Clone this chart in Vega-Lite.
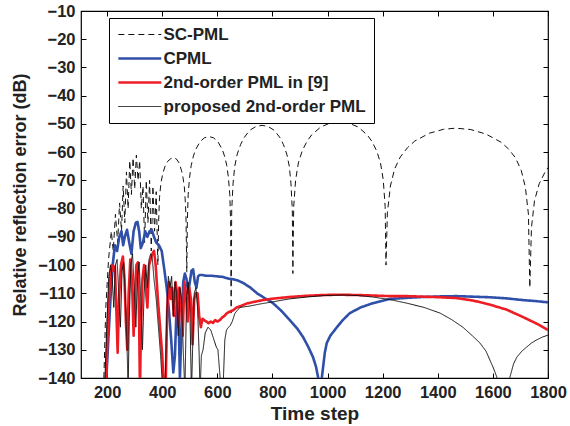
{
  "$schema": "https://vega.github.io/schema/vega-lite/v6.json",
  "width": 467,
  "height": 367,
  "autosize": {"type": "none"},
  "padding": {"left": 81, "top": 11, "right": 22, "bottom": 48},
  "background": "white",
  "config": {
    "view": {"stroke": "black", "strokeWidth": 1.2},
    "font": "Liberation Sans",
    "axis": {"labelFont": "Liberation Sans", "titleFont": "Liberation Sans", "labelFontWeight": "bold", "titleFontWeight": "bold", "labelColor": "#222", "titleColor": "#222", "grid": false, "domainColor": "black", "tickColor": "black", "labelOverlap": false, "labelFlush": false}
  },
  "datasets": {
    "curves": [
      {"s": "SC-PML", "t": 188, "v": -140}, {"s": "SC-PML", "t": 195, "v": -115}, {"s": "SC-PML", "t": 205, "v": -98}, {"s": "SC-PML", "t": 215, "v": -88}, {"s": "SC-PML", "t": 222, "v": -95}, {"s": "SC-PML", "t": 230, "v": -82}, {"s": "SC-PML", "t": 238, "v": -92}, {"s": "SC-PML", "t": 245, "v": -78}, {"s": "SC-PML", "t": 252, "v": -88}, {"s": "SC-PML", "t": 258, "v": -72}, {"s": "SC-PML", "t": 264, "v": -85}, {"s": "SC-PML", "t": 270, "v": -67}, {"s": "SC-PML", "t": 276, "v": -80}, {"s": "SC-PML", "t": 282, "v": -63}, {"s": "SC-PML", "t": 288, "v": -75}, {"s": "SC-PML", "t": 294, "v": -62}, {"s": "SC-PML", "t": 300, "v": -73}, {"s": "SC-PML", "t": 306, "v": -61}, {"s": "SC-PML", "t": 312, "v": -70}, {"s": "SC-PML", "t": 318, "v": -63}, {"s": "SC-PML", "t": 324, "v": -80}, {"s": "SC-PML", "t": 330, "v": -72}, {"s": "SC-PML", "t": 336, "v": -92}, {"s": "SC-PML", "t": 342, "v": -70}, {"s": "SC-PML", "t": 348, "v": -85}, {"s": "SC-PML", "t": 354, "v": -70}, {"s": "SC-PML", "t": 360, "v": -95}, {"s": "SC-PML", "t": 366, "v": -72}, {"s": "SC-PML", "t": 372, "v": -88}, {"s": "SC-PML", "t": 378, "v": -74}, {"s": "SC-PML", "t": 384, "v": -100}, {"s": "SC-PML", "t": 387, "v": -84}, {"s": "SC-PML", "t": 390, "v": -76}, {"s": "SC-PML", "t": 395, "v": -71}, {"s": "SC-PML", "t": 402, "v": -67.5}, {"s": "SC-PML", "t": 410, "v": -65}, {"s": "SC-PML", "t": 420, "v": -63.2}, {"s": "SC-PML", "t": 431, "v": -62.3}, {"s": "SC-PML", "t": 441, "v": -62}, {"s": "SC-PML", "t": 451, "v": -62.4}, {"s": "SC-PML", "t": 461, "v": -63.8}, {"s": "SC-PML", "t": 470, "v": -66.6}, {"s": "SC-PML", "t": 475, "v": -68.9}, {"s": "SC-PML", "t": 480, "v": -72.2}, {"s": "SC-PML", "t": 483, "v": -76.5}, {"s": "SC-PML", "t": 486, "v": -82.5}, {"s": "SC-PML", "t": 489, "v": -102.5}, {"s": "SC-PML", "t": 491, "v": -84.5}, {"s": "SC-PML", "t": 494, "v": -75}, {"s": "SC-PML", "t": 499, "v": -69}, {"s": "SC-PML", "t": 505, "v": -64.7}, {"s": "SC-PML", "t": 513, "v": -61.4}, {"s": "SC-PML", "t": 521, "v": -59.1}, {"s": "SC-PML", "t": 537, "v": -56.3}, {"s": "SC-PML", "t": 553, "v": -54.9}, {"s": "SC-PML", "t": 570, "v": -54.5}, {"s": "SC-PML", "t": 586, "v": -54.9}, {"s": "SC-PML", "t": 602, "v": -56.3}, {"s": "SC-PML", "t": 618, "v": -59.1}, {"s": "SC-PML", "t": 626, "v": -61.4}, {"s": "SC-PML", "t": 634, "v": -64.7}, {"s": "SC-PML", "t": 640, "v": -69}, {"s": "SC-PML", "t": 645, "v": -75}, {"s": "SC-PML", "t": 648, "v": -84.5}, {"s": "SC-PML", "t": 650, "v": -117}, {"s": "SC-PML", "t": 652, "v": -80.5}, {"s": "SC-PML", "t": 657, "v": -71}, {"s": "SC-PML", "t": 663, "v": -65}, {"s": "SC-PML", "t": 672, "v": -60.7}, {"s": "SC-PML", "t": 684, "v": -57.4}, {"s": "SC-PML", "t": 695, "v": -55.1}, {"s": "SC-PML", "t": 717, "v": -52.3}, {"s": "SC-PML", "t": 740, "v": -50.9}, {"s": "SC-PML", "t": 762, "v": -50.5}, {"s": "SC-PML", "t": 784, "v": -50.9}, {"s": "SC-PML", "t": 807, "v": -52.3}, {"s": "SC-PML", "t": 829, "v": -55.1}, {"s": "SC-PML", "t": 840, "v": -57.4}, {"s": "SC-PML", "t": 852, "v": -60.7}, {"s": "SC-PML", "t": 861, "v": -65}, {"s": "SC-PML", "t": 867, "v": -71}, {"s": "SC-PML", "t": 872, "v": -80.5}, {"s": "SC-PML", "t": 874, "v": -103}, {"s": "SC-PML", "t": 877, "v": -79.3}, {"s": "SC-PML", "t": 884, "v": -69.8}, {"s": "SC-PML", "t": 894, "v": -63.8}, {"s": "SC-PML", "t": 908, "v": -59.5}, {"s": "SC-PML", "t": 925, "v": -56.2}, {"s": "SC-PML", "t": 942, "v": -53.9}, {"s": "SC-PML", "t": 975, "v": -51.1}, {"s": "SC-PML", "t": 1009, "v": -49.7}, {"s": "SC-PML", "t": 1043, "v": -49.3}, {"s": "SC-PML", "t": 1077, "v": -49.7}, {"s": "SC-PML", "t": 1111, "v": -51.1}, {"s": "SC-PML", "t": 1144, "v": -53.9}, {"s": "SC-PML", "t": 1161, "v": -56.2}, {"s": "SC-PML", "t": 1178, "v": -59.5}, {"s": "SC-PML", "t": 1192, "v": -63.8}, {"s": "SC-PML", "t": 1202, "v": -69.8}, {"s": "SC-PML", "t": 1209, "v": -79.3}, {"s": "SC-PML", "t": 1212, "v": -100}, {"s": "SC-PML", "t": 1217, "v": -81.5}, {"s": "SC-PML", "t": 1228, "v": -72}, {"s": "SC-PML", "t": 1243, "v": -66}, {"s": "SC-PML", "t": 1264, "v": -61.7}, {"s": "SC-PML", "t": 1290, "v": -58.4}, {"s": "SC-PML", "t": 1316, "v": -56.1}, {"s": "SC-PML", "t": 1369, "v": -53.3}, {"s": "SC-PML", "t": 1421, "v": -51.9}, {"s": "SC-PML", "t": 1465, "v": -51.5}, {"s": "SC-PML", "t": 1520, "v": -52}, {"s": "SC-PML", "t": 1575, "v": -53.6}, {"s": "SC-PML", "t": 1630, "v": -56.5}, {"s": "SC-PML", "t": 1656, "v": -58.8}, {"s": "SC-PML", "t": 1682, "v": -62}, {"s": "SC-PML", "t": 1703, "v": -66.5}, {"s": "SC-PML", "t": 1718, "v": -72.5}, {"s": "SC-PML", "t": 1729, "v": -82}, {"s": "SC-PML", "t": 1734, "v": -108}, {"s": "SC-PML", "t": 1740, "v": -86.7}, {"s": "SC-PML", "t": 1751, "v": -77.2}, {"s": "SC-PML", "t": 1768, "v": -71.2}, {"s": "SC-PML", "t": 1790, "v": -66.9}, {"s": "SC-PML", "t": 1800, "v": -65.5},

      {"s": "CPML", "t": 197, "v": -140}, {"s": "CPML", "t": 205, "v": -125}, {"s": "CPML", "t": 212, "v": -112}, {"s": "CPML", "t": 220, "v": -100}, {"s": "CPML", "t": 228, "v": -93}, {"s": "CPML", "t": 236, "v": -95}, {"s": "CPML", "t": 244, "v": -90}, {"s": "CPML", "t": 252, "v": -88}, {"s": "CPML", "t": 258, "v": -93}, {"s": "CPML", "t": 264, "v": -90}, {"s": "CPML", "t": 272, "v": -87.5}, {"s": "CPML", "t": 280, "v": -92}, {"s": "CPML", "t": 288, "v": -96}, {"s": "CPML", "t": 296, "v": -88}, {"s": "CPML", "t": 304, "v": -85}, {"s": "CPML", "t": 310, "v": -84.7}, {"s": "CPML", "t": 316, "v": -88}, {"s": "CPML", "t": 322, "v": -94}, {"s": "CPML", "t": 330, "v": -92}, {"s": "CPML", "t": 338, "v": -88}, {"s": "CPML", "t": 346, "v": -90}, {"s": "CPML", "t": 354, "v": -88}, {"s": "CPML", "t": 362, "v": -87.6}, {"s": "CPML", "t": 370, "v": -90}, {"s": "CPML", "t": 378, "v": -92}, {"s": "CPML", "t": 388, "v": -93}, {"s": "CPML", "t": 398, "v": -95}, {"s": "CPML", "t": 408, "v": -102}, {"s": "CPML", "t": 416, "v": -108}, {"s": "CPML", "t": 424, "v": -116}, {"s": "CPML", "t": 432, "v": -126}, {"s": "CPML", "t": 440, "v": -138}, {"s": "CPML", "t": 446, "v": -132}, {"s": "CPML", "t": 452, "v": -115}, {"s": "CPML", "t": 458, "v": -112}, {"s": "CPML", "t": 464, "v": -140}, {"s": "CPML", "t": 470, "v": -122}, {"s": "CPML", "t": 476, "v": -106}, {"s": "CPML", "t": 482, "v": -103}, {"s": "CPML", "t": 488, "v": -105}, {"s": "CPML", "t": 494, "v": -110}, {"s": "CPML", "t": 500, "v": -106}, {"s": "CPML", "t": 506, "v": -102}, {"s": "CPML", "t": 512, "v": -101.5}, {"s": "CPML", "t": 518, "v": -106}, {"s": "CPML", "t": 524, "v": -108}, {"s": "CPML", "t": 530, "v": -104}, {"s": "CPML", "t": 536, "v": -103.5}, {"s": "CPML", "t": 544, "v": -103.5}, {"s": "CPML", "t": 560, "v": -103.8}, {"s": "CPML", "t": 580, "v": -103.8}, {"s": "CPML", "t": 600, "v": -104}, {"s": "CPML", "t": 620, "v": -104.2}, {"s": "CPML", "t": 640, "v": -104.8}, {"s": "CPML", "t": 656, "v": -105}, {"s": "CPML", "t": 675, "v": -105.5}, {"s": "CPML", "t": 693, "v": -106.3}, {"s": "CPML", "t": 720, "v": -108}, {"s": "CPML", "t": 744, "v": -110}, {"s": "CPML", "t": 770, "v": -111.6}, {"s": "CPML", "t": 802, "v": -113.5}, {"s": "CPML", "t": 830, "v": -116}, {"s": "CPML", "t": 863, "v": -119.5}, {"s": "CPML", "t": 890, "v": -122.5}, {"s": "CPML", "t": 911, "v": -125.5}, {"s": "CPML", "t": 930, "v": -129}, {"s": "CPML", "t": 947, "v": -132.6}, {"s": "CPML", "t": 958, "v": -136}, {"s": "CPML", "t": 966, "v": -140}, {"s": "CPML", "t": 972, "v": -165}, {"s": "CPML", "t": 979, "v": -140}, {"s": "CPML", "t": 990, "v": -131}, {"s": "CPML", "t": 997, "v": -127.6}, {"s": "CPML", "t": 1010, "v": -125}, {"s": "CPML", "t": 1034, "v": -122}, {"s": "CPML", "t": 1055, "v": -119.5}, {"s": "CPML", "t": 1081, "v": -117}, {"s": "CPML", "t": 1120, "v": -115}, {"s": "CPML", "t": 1164, "v": -113.5}, {"s": "CPML", "t": 1226, "v": -112}, {"s": "CPML", "t": 1290, "v": -111.6}, {"s": "CPML", "t": 1346, "v": -111.3}, {"s": "CPML", "t": 1410, "v": -111.1}, {"s": "CPML", "t": 1469, "v": -111}, {"s": "CPML", "t": 1530, "v": -111.2}, {"s": "CPML", "t": 1589, "v": -111.4}, {"s": "CPML", "t": 1650, "v": -111.8}, {"s": "CPML", "t": 1709, "v": -112.4}, {"s": "CPML", "t": 1760, "v": -112.8}, {"s": "CPML", "t": 1800, "v": -113.2},

      {"s": "2nd-order PML in [9]", "t": 196, "v": -140}, {"s": "2nd-order PML in [9]", "t": 203, "v": -120}, {"s": "2nd-order PML in [9]", "t": 210, "v": -105}, {"s": "2nd-order PML in [9]", "t": 216, "v": -100}, {"s": "2nd-order PML in [9]", "t": 222, "v": -102}, {"s": "2nd-order PML in [9]", "t": 228, "v": -100.5}, {"s": "2nd-order PML in [9]", "t": 233, "v": -115}, {"s": "2nd-order PML in [9]", "t": 238, "v": -131}, {"s": "2nd-order PML in [9]", "t": 243, "v": -112}, {"s": "2nd-order PML in [9]", "t": 250, "v": -100}, {"s": "2nd-order PML in [9]", "t": 257, "v": -97}, {"s": "2nd-order PML in [9]", "t": 263, "v": -105}, {"s": "2nd-order PML in [9]", "t": 268, "v": -120}, {"s": "2nd-order PML in [9]", "t": 273, "v": -130}, {"s": "2nd-order PML in [9]", "t": 278, "v": -110}, {"s": "2nd-order PML in [9]", "t": 284, "v": -98}, {"s": "2nd-order PML in [9]", "t": 290, "v": -105}, {"s": "2nd-order PML in [9]", "t": 296, "v": -125}, {"s": "2nd-order PML in [9]", "t": 300, "v": -112}, {"s": "2nd-order PML in [9]", "t": 306, "v": -100}, {"s": "2nd-order PML in [9]", "t": 312, "v": -99}, {"s": "2nd-order PML in [9]", "t": 316, "v": -120}, {"s": "2nd-order PML in [9]", "t": 319, "v": -145}, {"s": "2nd-order PML in [9]", "t": 322, "v": -125}, {"s": "2nd-order PML in [9]", "t": 328, "v": -105}, {"s": "2nd-order PML in [9]", "t": 334, "v": -100}, {"s": "2nd-order PML in [9]", "t": 340, "v": -108}, {"s": "2nd-order PML in [9]", "t": 346, "v": -115}, {"s": "2nd-order PML in [9]", "t": 352, "v": -100}, {"s": "2nd-order PML in [9]", "t": 358, "v": -98}, {"s": "2nd-order PML in [9]", "t": 364, "v": -96}, {"s": "2nd-order PML in [9]", "t": 370, "v": -95}, {"s": "2nd-order PML in [9]", "t": 376, "v": -100}, {"s": "2nd-order PML in [9]", "t": 384, "v": -112}, {"s": "2nd-order PML in [9]", "t": 392, "v": -122}, {"s": "2nd-order PML in [9]", "t": 400, "v": -132}, {"s": "2nd-order PML in [9]", "t": 406, "v": -145}, {"s": "2nd-order PML in [9]", "t": 412, "v": -145}, {"s": "2nd-order PML in [9]", "t": 418, "v": -115}, {"s": "2nd-order PML in [9]", "t": 424, "v": -106}, {"s": "2nd-order PML in [9]", "t": 430, "v": -112}, {"s": "2nd-order PML in [9]", "t": 436, "v": -108}, {"s": "2nd-order PML in [9]", "t": 442, "v": -118}, {"s": "2nd-order PML in [9]", "t": 448, "v": -106}, {"s": "2nd-order PML in [9]", "t": 454, "v": -110}, {"s": "2nd-order PML in [9]", "t": 458, "v": -122}, {"s": "2nd-order PML in [9]", "t": 462, "v": -108}, {"s": "2nd-order PML in [9]", "t": 468, "v": -114}, {"s": "2nd-order PML in [9]", "t": 474, "v": -125}, {"s": "2nd-order PML in [9]", "t": 480, "v": -106}, {"s": "2nd-order PML in [9]", "t": 486, "v": -110}, {"s": "2nd-order PML in [9]", "t": 492, "v": -120}, {"s": "2nd-order PML in [9]", "t": 498, "v": -108}, {"s": "2nd-order PML in [9]", "t": 504, "v": -112}, {"s": "2nd-order PML in [9]", "t": 510, "v": -128}, {"s": "2nd-order PML in [9]", "t": 516, "v": -112}, {"s": "2nd-order PML in [9]", "t": 522, "v": -110}, {"s": "2nd-order PML in [9]", "t": 528, "v": -110}, {"s": "2nd-order PML in [9]", "t": 534, "v": -118}, {"s": "2nd-order PML in [9]", "t": 540, "v": -122}, {"s": "2nd-order PML in [9]", "t": 546, "v": -119}, {"s": "2nd-order PML in [9]", "t": 552, "v": -119.5}, {"s": "2nd-order PML in [9]", "t": 560, "v": -120}, {"s": "2nd-order PML in [9]", "t": 568, "v": -120.6}, {"s": "2nd-order PML in [9]", "t": 576, "v": -120}, {"s": "2nd-order PML in [9]", "t": 584, "v": -120.5}, {"s": "2nd-order PML in [9]", "t": 592, "v": -119.5}, {"s": "2nd-order PML in [9]", "t": 600, "v": -120}, {"s": "2nd-order PML in [9]", "t": 609, "v": -119.5}, {"s": "2nd-order PML in [9]", "t": 618, "v": -118.5}, {"s": "2nd-order PML in [9]", "t": 626, "v": -118}, {"s": "2nd-order PML in [9]", "t": 635, "v": -117}, {"s": "2nd-order PML in [9]", "t": 645, "v": -116.5}, {"s": "2nd-order PML in [9]", "t": 657, "v": -116}, {"s": "2nd-order PML in [9]", "t": 670, "v": -115}, {"s": "2nd-order PML in [9]", "t": 685, "v": -114.5}, {"s": "2nd-order PML in [9]", "t": 707, "v": -113.6}, {"s": "2nd-order PML in [9]", "t": 735, "v": -113}, {"s": "2nd-order PML in [9]", "t": 765, "v": -112.4}, {"s": "2nd-order PML in [9]", "t": 800, "v": -111.9}, {"s": "2nd-order PML in [9]", "t": 863, "v": -111.3}, {"s": "2nd-order PML in [9]", "t": 920, "v": -110.9}, {"s": "2nd-order PML in [9]", "t": 983, "v": -110.6}, {"s": "2nd-order PML in [9]", "t": 1040, "v": -110.5}, {"s": "2nd-order PML in [9]", "t": 1106, "v": -110.6}, {"s": "2nd-order PML in [9]", "t": 1170, "v": -110.8}, {"s": "2nd-order PML in [9]", "t": 1226, "v": -111}, {"s": "2nd-order PML in [9]", "t": 1290, "v": -111}, {"s": "2nd-order PML in [9]", "t": 1350, "v": -111.2}, {"s": "2nd-order PML in [9]", "t": 1410, "v": -111.4}, {"s": "2nd-order PML in [9]", "t": 1469, "v": -111.7}, {"s": "2nd-order PML in [9]", "t": 1530, "v": -112.6}, {"s": "2nd-order PML in [9]", "t": 1589, "v": -114}, {"s": "2nd-order PML in [9]", "t": 1650, "v": -115.8}, {"s": "2nd-order PML in [9]", "t": 1709, "v": -118.4}, {"s": "2nd-order PML in [9]", "t": 1760, "v": -120.8}, {"s": "2nd-order PML in [9]", "t": 1800, "v": -123},

      {"s": "proposed 2nd-order PML", "t": 192, "v": -140}, {"s": "proposed 2nd-order PML", "t": 200, "v": -118}, {"s": "proposed 2nd-order PML", "t": 206, "v": -104}, {"s": "proposed 2nd-order PML", "t": 212, "v": -100}, {"s": "proposed 2nd-order PML", "t": 218, "v": -104}, {"s": "proposed 2nd-order PML", "t": 224, "v": -115}, {"s": "proposed 2nd-order PML", "t": 230, "v": -100}, {"s": "proposed 2nd-order PML", "t": 236, "v": -98}, {"s": "proposed 2nd-order PML", "t": 242, "v": -110}, {"s": "proposed 2nd-order PML", "t": 248, "v": -122}, {"s": "proposed 2nd-order PML", "t": 254, "v": -102}, {"s": "proposed 2nd-order PML", "t": 260, "v": -99}, {"s": "proposed 2nd-order PML", "t": 266, "v": -112}, {"s": "proposed 2nd-order PML", "t": 272, "v": -128}, {"s": "proposed 2nd-order PML", "t": 276, "v": -145}, {"s": "proposed 2nd-order PML", "t": 280, "v": -120}, {"s": "proposed 2nd-order PML", "t": 286, "v": -100}, {"s": "proposed 2nd-order PML", "t": 292, "v": -96}, {"s": "proposed 2nd-order PML", "t": 298, "v": -108}, {"s": "proposed 2nd-order PML", "t": 304, "v": -122}, {"s": "proposed 2nd-order PML", "t": 310, "v": -104}, {"s": "proposed 2nd-order PML", "t": 316, "v": -99}, {"s": "proposed 2nd-order PML", "t": 322, "v": -112}, {"s": "proposed 2nd-order PML", "t": 328, "v": -130}, {"s": "proposed 2nd-order PML", "t": 334, "v": -110}, {"s": "proposed 2nd-order PML", "t": 340, "v": -100}, {"s": "proposed 2nd-order PML", "t": 346, "v": -108}, {"s": "proposed 2nd-order PML", "t": 352, "v": -98}, {"s": "proposed 2nd-order PML", "t": 358, "v": -96}, {"s": "proposed 2nd-order PML", "t": 364, "v": -98}, {"s": "proposed 2nd-order PML", "t": 370, "v": -105}, {"s": "proposed 2nd-order PML", "t": 378, "v": -112}, {"s": "proposed 2nd-order PML", "t": 386, "v": -122}, {"s": "proposed 2nd-order PML", "t": 394, "v": -132}, {"s": "proposed 2nd-order PML", "t": 402, "v": -145}, {"s": "proposed 2nd-order PML", "t": 410, "v": -145}, {"s": "proposed 2nd-order PML", "t": 416, "v": -118}, {"s": "proposed 2nd-order PML", "t": 422, "v": -104}, {"s": "proposed 2nd-order PML", "t": 428, "v": -108}, {"s": "proposed 2nd-order PML", "t": 434, "v": -104}, {"s": "proposed 2nd-order PML", "t": 440, "v": -118}, {"s": "proposed 2nd-order PML", "t": 446, "v": -106}, {"s": "proposed 2nd-order PML", "t": 452, "v": -110}, {"s": "proposed 2nd-order PML", "t": 458, "v": -125}, {"s": "proposed 2nd-order PML", "t": 464, "v": -108}, {"s": "proposed 2nd-order PML", "t": 470, "v": -112}, {"s": "proposed 2nd-order PML", "t": 476, "v": -130}, {"s": "proposed 2nd-order PML", "t": 482, "v": -145}, {"s": "proposed 2nd-order PML", "t": 488, "v": -112}, {"s": "proposed 2nd-order PML", "t": 494, "v": -106}, {"s": "proposed 2nd-order PML", "t": 500, "v": -115}, {"s": "proposed 2nd-order PML", "t": 506, "v": -145}, {"s": "proposed 2nd-order PML", "t": 510, "v": -130}, {"s": "proposed 2nd-order PML", "t": 516, "v": -110}, {"s": "proposed 2nd-order PML", "t": 522, "v": -108}, {"s": "proposed 2nd-order PML", "t": 528, "v": -115}, {"s": "proposed 2nd-order PML", "t": 534, "v": -132}, {"s": "proposed 2nd-order PML", "t": 537, "v": -145}, {"s": "proposed 2nd-order PML", "t": 542, "v": -132}, {"s": "proposed 2nd-order PML", "t": 548, "v": -130}, {"s": "proposed 2nd-order PML", "t": 556, "v": -124}, {"s": "proposed 2nd-order PML", "t": 566, "v": -122}, {"s": "proposed 2nd-order PML", "t": 576, "v": -123}, {"s": "proposed 2nd-order PML", "t": 586, "v": -126}, {"s": "proposed 2nd-order PML", "t": 596, "v": -129}, {"s": "proposed 2nd-order PML", "t": 602, "v": -130}, {"s": "proposed 2nd-order PML", "t": 606, "v": -135}, {"s": "proposed 2nd-order PML", "t": 610, "v": -140}, {"s": "proposed 2nd-order PML", "t": 616, "v": -150}, {"s": "proposed 2nd-order PML", "t": 622, "v": -140}, {"s": "proposed 2nd-order PML", "t": 627, "v": -126.5}, {"s": "proposed 2nd-order PML", "t": 633, "v": -123}, {"s": "proposed 2nd-order PML", "t": 638, "v": -122.3}, {"s": "proposed 2nd-order PML", "t": 646, "v": -121.5}, {"s": "proposed 2nd-order PML", "t": 654, "v": -120}, {"s": "proposed 2nd-order PML", "t": 664, "v": -117}, {"s": "proposed 2nd-order PML", "t": 682, "v": -115}, {"s": "proposed 2nd-order PML", "t": 718, "v": -114.5}, {"s": "proposed 2nd-order PML", "t": 754, "v": -113.8}, {"s": "proposed 2nd-order PML", "t": 802, "v": -113}, {"s": "proposed 2nd-order PML", "t": 860, "v": -112}, {"s": "proposed 2nd-order PML", "t": 925, "v": -111.3}, {"s": "proposed 2nd-order PML", "t": 990, "v": -110.8}, {"s": "proposed 2nd-order PML", "t": 1056, "v": -110.6}, {"s": "proposed 2nd-order PML", "t": 1110, "v": -110.8}, {"s": "proposed 2nd-order PML", "t": 1164, "v": -111.3}, {"s": "proposed 2nd-order PML", "t": 1230, "v": -112.3}, {"s": "proposed 2nd-order PML", "t": 1288, "v": -113.5}, {"s": "proposed 2nd-order PML", "t": 1350, "v": -115}, {"s": "proposed 2nd-order PML", "t": 1408, "v": -117}, {"s": "proposed 2nd-order PML", "t": 1450, "v": -119.3}, {"s": "proposed 2nd-order PML", "t": 1491, "v": -122}, {"s": "proposed 2nd-order PML", "t": 1525, "v": -125}, {"s": "proposed 2nd-order PML", "t": 1553, "v": -127.6}, {"s": "proposed 2nd-order PML", "t": 1575, "v": -130.5}, {"s": "proposed 2nd-order PML", "t": 1589, "v": -133.6}, {"s": "proposed 2nd-order PML", "t": 1602, "v": -136.5}, {"s": "proposed 2nd-order PML", "t": 1614, "v": -139.6}, {"s": "proposed 2nd-order PML", "t": 1638, "v": -165}, {"s": "proposed 2nd-order PML", "t": 1661, "v": -140}, {"s": "proposed 2nd-order PML", "t": 1675, "v": -135}, {"s": "proposed 2nd-order PML", "t": 1687, "v": -132.6}, {"s": "proposed 2nd-order PML", "t": 1705, "v": -130.5}, {"s": "proposed 2nd-order PML", "t": 1723, "v": -129}, {"s": "proposed 2nd-order PML", "t": 1740, "v": -127.6}, {"s": "proposed 2nd-order PML", "t": 1759, "v": -126.5}, {"s": "proposed 2nd-order PML", "t": 1780, "v": -125.5}, {"s": "proposed 2nd-order PML", "t": 1800, "v": -124.8}
    ]
  },
  "data": {"name": "curves"},
  "layer": [
    {
      "mark": {"type": "line", "clip": true, "strokeJoin": "round", "interpolate": "linear"},
      "encoding": {
        "x": {"field": "t", "type": "quantitative", "scale": {"domain": [105, 1800], "nice": false, "zero": false},
          "axis": {"title": "Time step", "values": [200, 400, 600, 800, 1000, 1200, 1400, 1600, 1800], "format": "d", "labelFontSize": 16.5, "titleFontSize": 19, "tickSize": -5, "labelPadding": 11, "titlePadding": 4, "domain": false}},
        "y": {"field": "v", "type": "quantitative", "scale": {"domain": [-140, -10], "nice": false, "zero": false},
          "axis": {"title": "Relative reflection error (dB)", "values": [-140, -130, -120, -110, -100, -90, -80, -70, -60, -50, -40, -30, -20, -10], "labelFontSize": 16.5, "titleFontSize": 18, "tickSize": -5, "labelPadding": 11, "titlePadding": 8, "domain": false}},
        "color": {"field": "s", "type": "nominal",
          "scale": {"domain": ["SC-PML", "CPML", "2nd-order PML in [9]", "proposed 2nd-order PML"], "range": ["#111111", "#2f4fa8", "#ee1c25", "#111111"]},
          "legend": {"orient": "none", "legendX": 28, "legendY": 7, "title": null, "symbolType": "M-1,0H5", "symbolSize": 205, "labelFontSize": 17, "labelFontWeight": "bold", "labelColor": "#222", "labelFont": "Liberation Sans", "strokeColor": "black", "fillColor": "white", "padding": 8, "rowPadding": 6, "labelOffset": 29.5, "labelLimit": 400}},
        "strokeDash": {"field": "s", "type": "nominal",
          "scale": {"domain": ["SC-PML", "CPML", "2nd-order PML in [9]", "proposed 2nd-order PML"], "range": [[6, 4], [1, 0], [1, 0], [1, 0]]}},
        "strokeWidth": {"field": "s", "type": "nominal",
          "scale": {"type": "ordinal", "domain": ["SC-PML", "CPML", "2nd-order PML in [9]", "proposed 2nd-order PML"], "range": [1, 2.6, 2.6, 1]}}
      }
    },
    {
      "mark": {"type": "point", "opacity": 0},
      "encoding": {
        "x": {"field": "t", "type": "quantitative", "axis": {"orient": "top", "title": null, "labels": false, "values": [200, 400, 600, 800, 1000, 1200, 1400, 1600, 1800], "tickSize": -5, "domain": false}},
        "y": {"field": "v", "type": "quantitative", "axis": {"orient": "right", "title": null, "labels": false, "values": [-140, -130, -120, -110, -100, -90, -80, -70, -60, -50, -40, -30, -20, -10], "tickSize": -5, "domain": false}}
      }
    }
  ],
  "resolve": {"axis": {"x": "independent", "y": "independent"}}
}
